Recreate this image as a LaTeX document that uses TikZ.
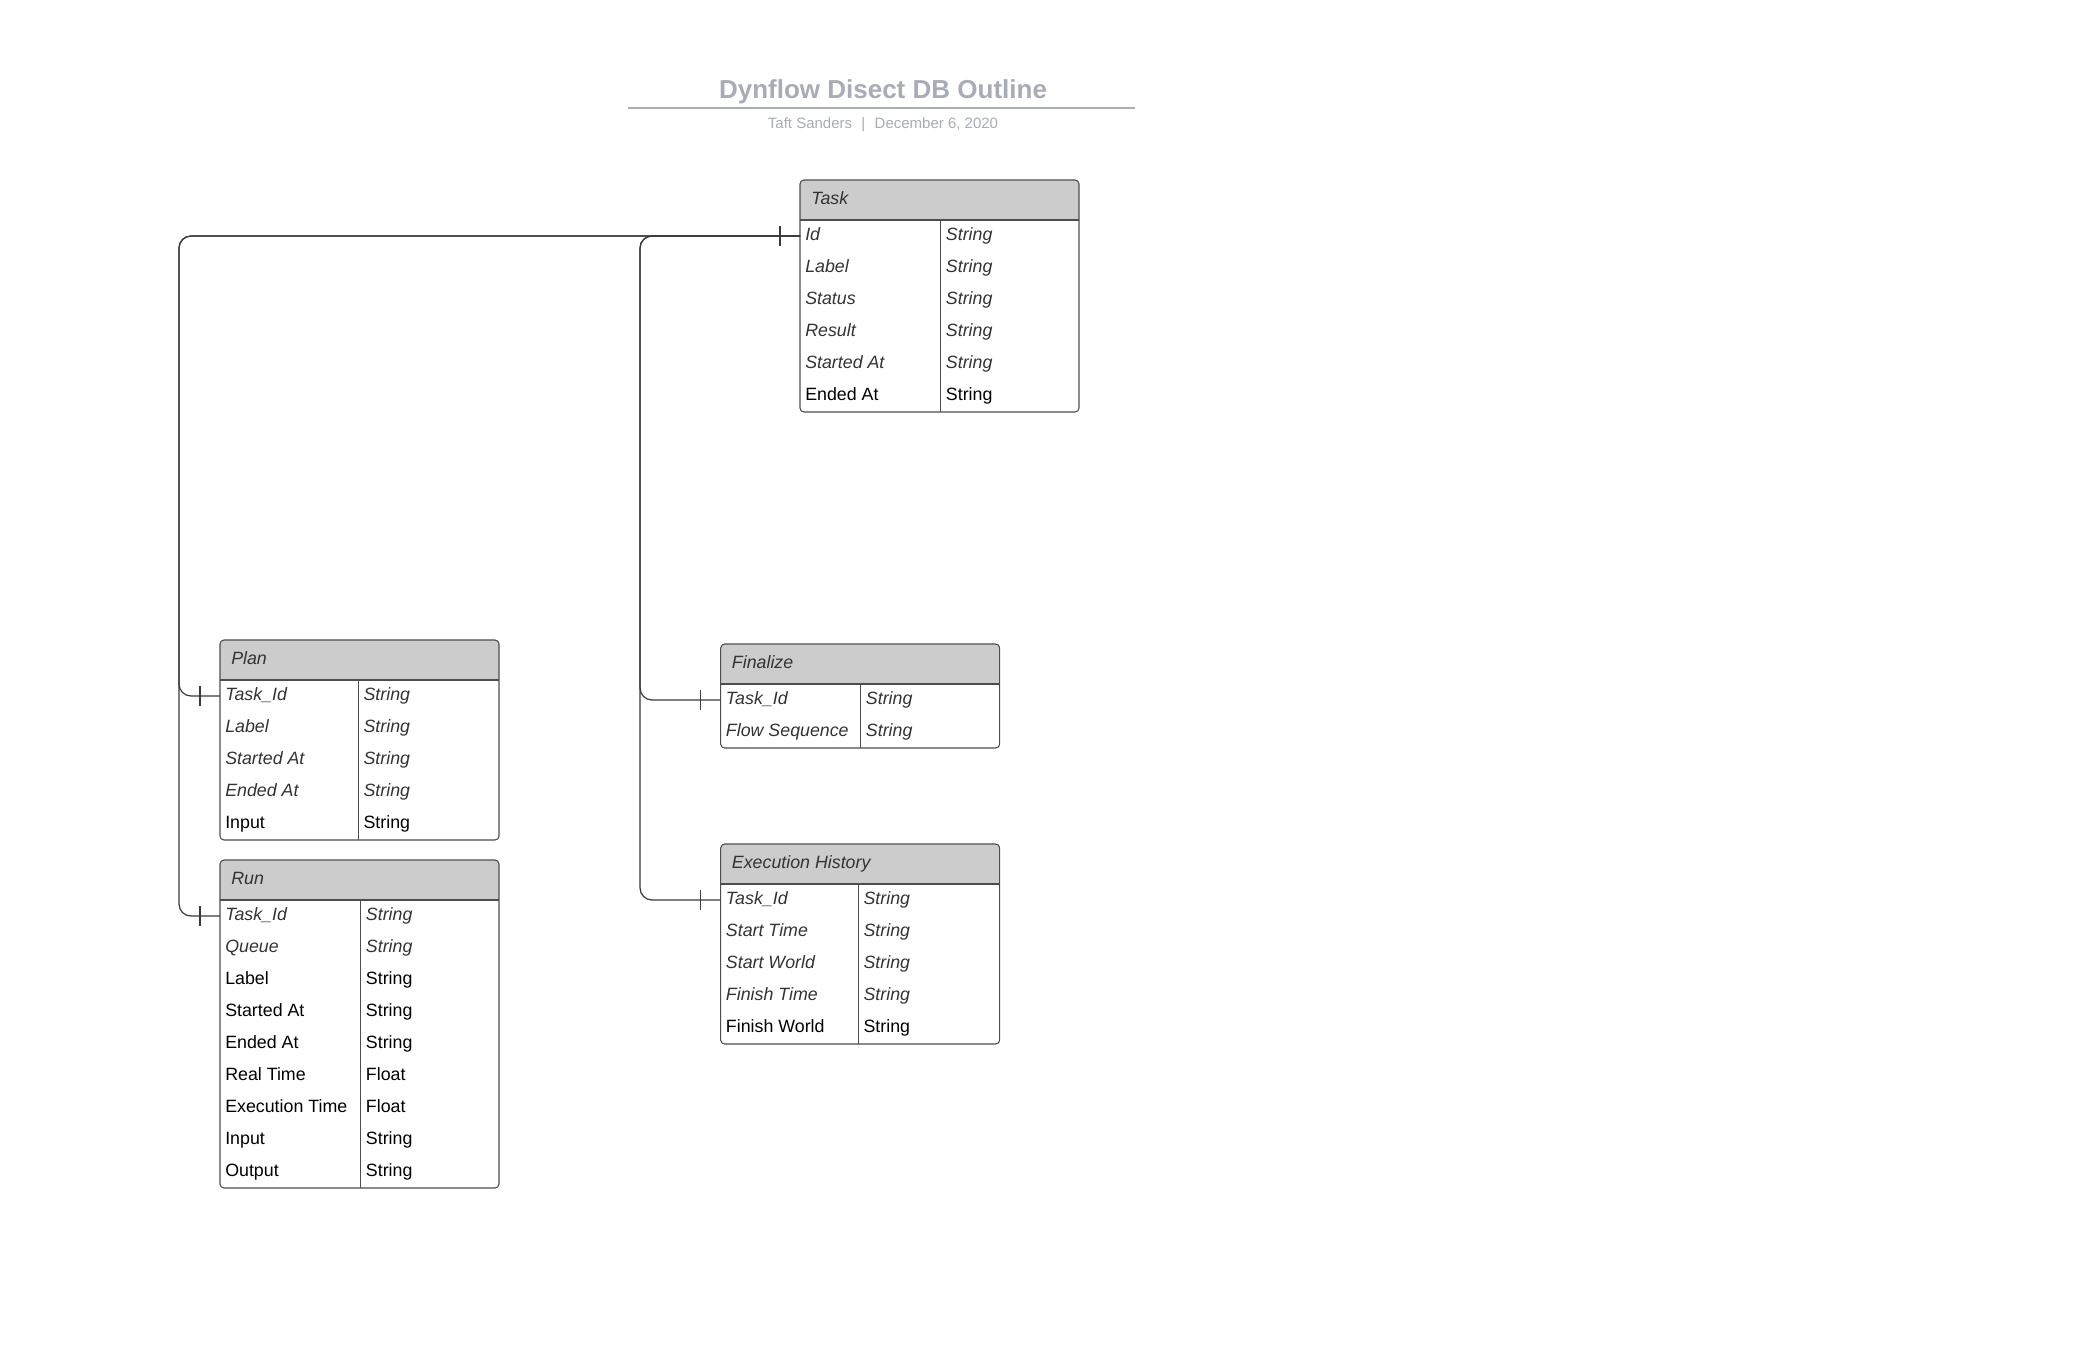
\documentclass[tikz,border=0pt]{standalone}
\usepackage{fontspec}
\setmainfont{Liberation Sans}
\definecolor{hdrfill}{HTML}{CCCCCC}
\definecolor{bordercol}{HTML}{4D4D4D}
\definecolor{itcol}{HTML}{333333}
\definecolor{titlecol}{HTML}{A7ACB6}
\definecolor{conncol}{HTML}{3A3A3A}
\tikzset{
  fi/.style={inner sep=0pt, font=\fontsize{13.35pt}{15pt}\selectfont\itshape, text=itcol},
  fr/.style={inner sep=0pt, font=\fontsize{13.35pt}{15pt}\selectfont, text=black},
  hd/.style={inner sep=0pt, font=\fontsize{13.35pt}{15pt}\selectfont\itshape, text=itcol},
  rowbox/.style={inner sep=0pt, outer sep=0pt, minimum width=209.25pt, minimum height=24pt},
  tblbox/.style={inner sep=0pt, outer sep=0pt, minimum width=209.25pt},
  tblborder/.style={draw=bordercol, line width=0.8pt, rounded corners=3pt},
  tblline/.style={draw=bordercol, line width=0.8pt},
  conn/.style={draw=conncol, line width=0.9pt, rounded corners=9pt},
  tickmark/.style={draw=conncol, line width=0.9pt},
  titletext/.style={inner sep=0pt, font=\fontsize{19.5pt}{23pt}\selectfont\bfseries, text=titlecol},
  subtext/.style={inner sep=0pt, font=\fontsize{11.25pt}{13pt}\selectfont, text=titlecol},
}
% #1 name, #2 left, #3 top, #4 divider offset, #5 rows, #6 title, #7 rows list
\newcommand{\ertable}[7]{%
  \node[tblbox, anchor=north west, minimum height={(40+32*#5)*0.75pt}] (#1) at (#2,#3) {};
  \begin{scope}
    \clip[rounded corners=3pt] (#1.north west) rectangle (#1.south east);
    \fill[hdrfill] (#1.north west) rectangle ([yshift=-30pt]#1.north east);
  \end{scope}
  \draw[tblborder] (#1.north west) rectangle (#1.south east);
  \draw[tblline] ([yshift=-30pt]#1.north west) -- ([yshift=-30pt]#1.north east);
  \draw[tblline] ([xshift=#4*0.75pt, yshift=-30pt]#1.north west) -- ([xshift=#4*0.75pt]#1.south west);
  \node[hd, anchor=base west] (#1-title) at (#2+11,#3+24) {#6};
  \foreach \m/\f/\t [count=\k from 0] in {#7} {
    \node[rowbox, anchor=north west] (#1-r\k) at (#2,#3+40+32*\k) {};
    \node[\m, anchor=base west] (#1-f\k) at (#2+5,#3+60+32*\k) {\f};
    \node[\m, anchor=base west] (#1-t\k) at (#2+#4+5,#3+60+32*\k) {\t};
  }
}
\begin{document}
\begin{tikzpicture}[x=0.75pt,y=-0.75pt]
\useasboundingbox[fill=white] (0,0) rectangle (2085,1360);

% title
\node[titletext, anchor=base] (title) at (883,98.5) {Dynflow Disect DB Outline};
\coordinate (ruleL) at (628,107.7);
\coordinate (ruleR) at (1135,107.7);
\draw[draw=titlecol, line width=1.5pt] (ruleL) -- (ruleR);
\node[subtext, anchor=base] (subtitle) at (883,128.8) {Taft Sanders\hspace{7pt}|\hspace{7pt}December 6, 2020};

\ertable{task}{800}{180}{140.7}{6}{Task}{fi/Id/String, fi/Label/String, fi/Status/String, fi/Result/String, fi/Started At/String, fr/Ended At/String}
\ertable{plan}{220}{640}{138.3}{5}{Plan}{fi/Task\_Id/String, fi/Label/String, fi/Started At/String, fi/Ended At/String, fr/Input/String}
\ertable{run}{220}{860}{140.7}{9}{Run}{fi/Task\_Id/String, fi/Queue/String, fr/Label/String, fr/Started At/String, fr/Ended At/String, fr/Real Time/Float, fr/Execution Time/Float, fr/Input/String, fr/Output/String}
\ertable{fin}{720.7}{644}{140}{2}{Finalize}{fi/Task\_Id/String, fi/Flow Sequence/String}
\ertable{exh}{720.7}{844}{137.6}{5}{Execution History}{fi/Task\_Id/String, fi/Start Time/String, fi/Start World/String, fi/Finish Time/String, fr/Finish World/String}

% connectors
\draw[conn] (task-r0.west) -| ([xshift=-30.75pt]plan-r0.west) -- (plan-r0.west);
\draw[conn] (task-r0.west) -| ([xshift=-30.75pt]run-r0.west) -- (run-r0.west);
\draw[conn] (task-r0.west) -| ([xshift=-60.5pt]fin-r0.west) -- (fin-r0.west);
\draw[conn] (task-r0.west) -| ([xshift=-60.5pt]exh-r0.west) -- (exh-r0.west);

% one-ticks
\foreach \n in {task,plan,run,fin,exh} {
  \draw[tickmark] ([xshift=-15pt,yshift=7.5pt]\n-r0.west) -- ([xshift=-15pt,yshift=-7.5pt]\n-r0.west);
}
\end{tikzpicture}
\end{document}
